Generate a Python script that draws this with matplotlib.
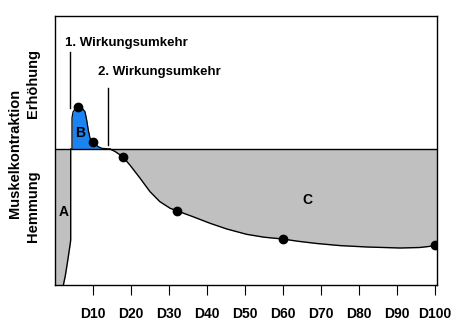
import matplotlib

matplotlib.use("Agg")
import matplotlib.pyplot as plt

plt.rcParams["font.family"] = ["Liberation Sans", "DejaVu Sans"]
plt.rcParams["font.weight"] = "bold"

# x in days, y relative to the baseline (0 = no effect)
A_X = [2.2, 2.7, 3.08, 3.45, 3.76, 4.0, 4.13, 4.13]
A_Y = [-136, -127, -118, -109, -101, -95, -91, 0]

B_X = [4.47, 4.47, 4.74, 5.26, 6.13, 7.1, 7.89, 8.34, 8.76, 9.21, 10.08, 11.39, 12.29, 14.47]
B_Y = [0, 31, 37, 40, 41.7, 41, 37.3, 29, 19, 11, 6.7, 2.3, 0.7, 0]

C_X = [14.47, 15.8, 17.8, 19.7, 22.4, 25.0, 27.6, 30.3, 32.0, 36.3, 40.8, 45.2,
       50.4, 55.0, 59.9, 64.0, 68.9, 75.0, 82.1, 90.8, 96.0, 100.5]
C_Y = [0, -2.5, -7.7, -16, -29.3, -42.7, -52.7, -59.3, -61.7, -67.7, -74.3, -80,
       -85.3, -88.2, -90, -92.3, -94.5, -96.6, -98, -99, -98.5, -96.5]

DOT_X = [6, 10, 18, 32, 60, 100]
DOT_Y = [41.7, 6.7, -7.7, -61.7, -90, -95.5]

TICKS = [10, 20, 30, 40, 50, 60, 70, 80, 90, 100]
TICK_LABELS = ["D10", "D20", "D30", "D40", "D50", "D60", "D70", "D80", "D90", "D100"]

GRAY = "#c0c0c0"
BLUE = "#1c84f0"

fig = plt.figure(figsize=(4.69, 3.29), dpi=100)
ax = fig.add_axes([55 / 469, 1 - 285 / 329, 382 / 469, 269 / 329])
ax.set_xlim(0, 100.5)
ax.set_ylim(-136, 133)

# A: early inhibition, gray strip left of the curve
ax.fill_betweenx(A_Y, 0, A_X, color=GRAY, lw=0)
ax.plot(A_X, A_Y, color="black", lw=1)

# B: facilitation (blue)
ax.fill_between(B_X, B_Y, 0, color=BLUE, lw=0)
ax.plot(B_X, B_Y, color="black", lw=0.9)

# C: long inhibition
ax.fill_between(C_X, C_Y, 0, color=GRAY, lw=0)
ax.plot(C_X, C_Y, color="black", lw=1)

ax.axhline(0, color="black", lw=1)
ax.plot(DOT_X, DOT_Y, "o", color="black", ms=6, zorder=5)

# reversal markers
ax.plot([4.0, 4.0], [41, 97], color="black", lw=1)
ax.plot([13.95, 13.95], [4, 61], color="black", lw=1)
ax.text(2.6, 106, "1. Wirkungsumkehr", fontsize=9.5, fontweight="bold",
        ha="left", va="center")
ax.text(11.3, 77, "2. Wirkungsumkehr", fontsize=9.5, fontweight="bold",
        ha="left", va="center")

ax.text(2.4, -63, "A", fontsize=10, fontweight="bold", ha="center", va="center")
ax.text(6.6, 16, "B", fontsize=10, fontweight="bold", ha="center", va="center")
ax.text(66.3, -51, "C", fontsize=10, fontweight="bold", ha="center", va="center")

ax.set_xticks(TICKS)
ax.set_xticklabels(TICK_LABELS, fontsize=10, fontweight="bold")
ax.tick_params(axis="x", direction="out", length=7.5, width=0.8, pad=8)
ax.set_yticks([])
for s in ax.spines.values():
    s.set_linewidth(1)

fig.text(15 / 469, 1 - 153 / 329, "Muskelkontraktion", rotation=90,
         fontsize=10.5, fontweight="bold", ha="center", va="center")
fig.text(33 / 469, 1 - 84 / 329, "Erhöhung", rotation=90,
         fontsize=10.5, fontweight="bold", ha="center", va="center")
fig.text(33 / 469, 1 - 206 / 329, "Hemmung", rotation=90,
         fontsize=10.5, fontweight="bold", ha="center", va="center")

fig.savefig("out.png", dpi=100)
